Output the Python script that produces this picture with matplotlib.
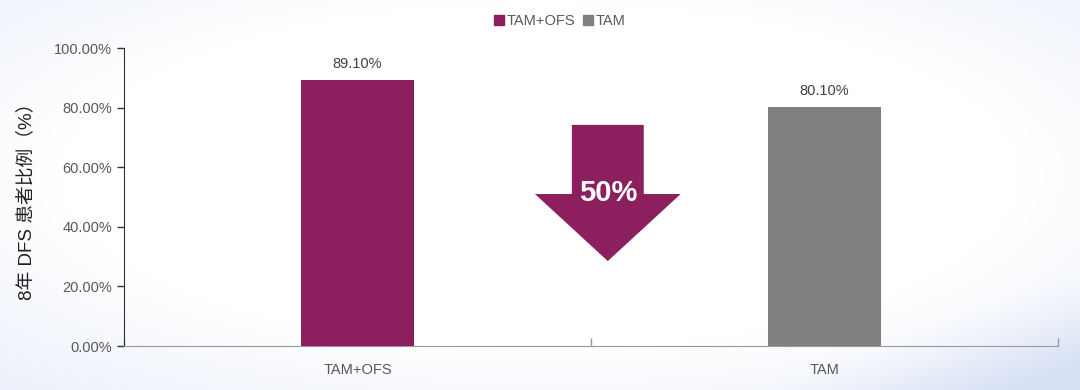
import numpy as np
import matplotlib
matplotlib.use("Agg")
import matplotlib.pyplot as plt
from matplotlib.patches import Polygon
from matplotlib.ticker import FuncFormatter
from matplotlib.lines import Line2D

plt.rcParams['font.family'] = ['Liberation Sans', 'Noto Sans CJK SC', 'DejaVu Sans']

categories = ["TAM+OFS", "TAM"]
values = [89.10, 80.10]
colors = ["#8C1F5E", "#808080"]
y_ticks = [0, 20, 40, 60, 80, 100]
ylabel = "8年 DFS 患者比例（%）"
arrow_text = "50%"

fig = plt.figure(figsize=(10.8, 3.9), dpi=100)

# subtle background gradient
bg = fig.add_axes([0, 0, 1, 1], zorder=-10)
yy, xx = np.mgrid[0:1:200j, 0:1:400j]
d = np.sqrt(((xx - 0.5) / 0.62) ** 2 + ((yy - 0.55) / 0.62) ** 2)
g = np.clip((d - 0.72) / 0.5, 0, 1)
corner = np.clip(((xx - 0.75) / 0.25 + (0.25 - yy) / 0.25 - 0.8), 0, 1) * 0.6
t = np.clip(g * 0.5 + corner, 0, 1)
white = np.array([1.0, 1.0, 1.0])
blue = np.array([0.84, 0.88, 0.96])
img = white[None, None, :] * (1 - t[..., None]) + blue[None, None, :] * t[..., None]
bg.imshow(img, extent=[0, 1, 0, 1], aspect='auto', origin='lower')
bg.set_axis_off()

ax = fig.add_axes([124 / 1080, 1 - 346 / 390, (1058 - 124) / 1080, (346 - 48) / 390])
ax.set_facecolor('none')

x = np.arange(len(categories))
bars = ax.bar(x, values, width=0.242, color=colors, zorder=3)
for xi, v in zip(x, values):
    ax.annotate(f"{v:.2f}%", (xi, v), xytext=(0, 7), textcoords='offset points',
                ha='center', va='bottom', fontsize=10.5, color='#404040')

ax.set_xlim(-0.5, 1.5)
ax.set_ylim(0, 100)
ax.set_yticks(y_ticks)
ax.yaxis.set_major_formatter(FuncFormatter(lambda v, p: f"{v:.2f}%"))
ax.tick_params(axis='y', labelsize=10.5, labelcolor='#595959', color='#333333',
               length=5, width=1, direction='out')
ax.set_xticks(x)
ax.set_xticklabels(categories)
ax.tick_params(axis='x', which='major', length=0, labelsize=10.5, labelcolor='#595959', pad=12)
ax.set_xticks([-0.5, 0.5, 1.5], minor=True)
ax.tick_params(axis='x', which='minor', direction='in', length=6, color='#999999', width=1)

for s in ['top', 'right']:
    ax.spines[s].set_visible(False)
ax.spines['left'].set_color('#333333')
ax.spines['bottom'].set_color('#999999')

ax.set_ylabel(ylabel, fontsize=13.5, color='#222222', labelpad=14,
              family=['Liberation Sans', 'Noto Sans CJK SC'])

# arrow annotation
cx = 0.536
sw, hw = 0.077, 0.156
y_top, y_head, y_tip = 74.2, 51.0, 28.5
arrow = Polygon([(cx - sw, y_top), (cx + sw, y_top), (cx + sw, y_head), (cx + hw, y_head),
                 (cx, y_tip), (cx - hw, y_head), (cx - sw, y_head)],
                closed=True, facecolor=colors[0], edgecolor='none', zorder=4)
ax.add_patch(arrow)
ax.text(cx, 51.5, arrow_text, ha='center', va='center', color='white',
        fontsize=21, fontweight='bold', zorder=5)

# legend
handles = [Line2D([], [], marker='s', linestyle='none', markersize=7, color=c) for c in colors]
fig.legend(handles, categories, loc='center', bbox_to_anchor=(0.518, 0.947), ncol=2,
           frameon=False, fontsize=10.5, handletextpad=0.1, columnspacing=0.5,
           labelcolor='#595959', handlelength=0.8)

fig.savefig("out.png", dpi=100)
